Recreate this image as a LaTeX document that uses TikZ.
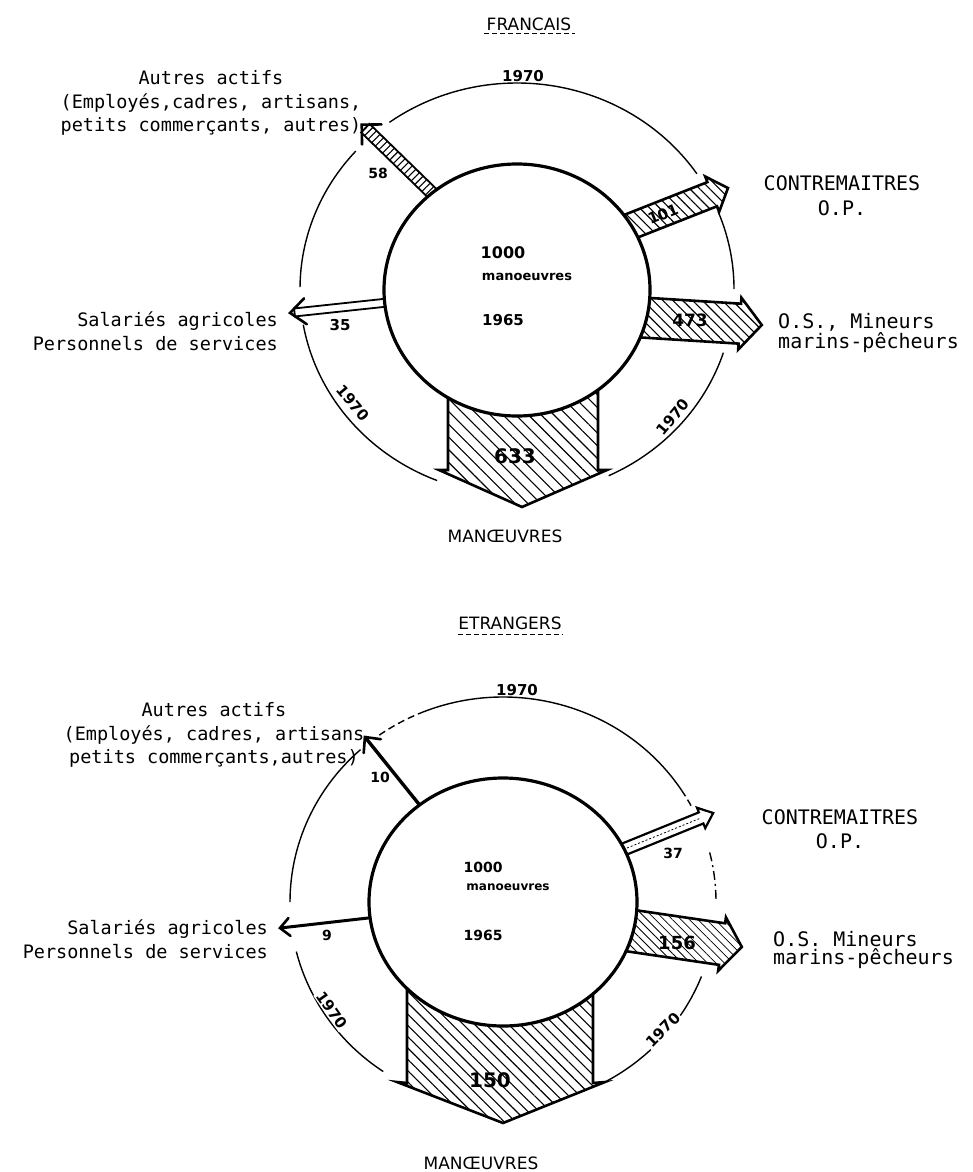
\documentclass[tikz,border=0pt]{standalone}
\usepackage{fontspec}
\usetikzlibrary{patterns.meta}
\newfontfamily\typefont{DejaVu Sans Mono}
\newfontfamily\penfont{DejaVu Sans}
\newfontfamily\plotfont{DejaVu Sans}

% Corner points of a straight band arrow, built in a frame turned along the arrow.
% #1 prefix, #2 base point, #3 angle, #4 start of shaft, #5 end of shaft,
% #6 tip, #7 half width of shaft, #8 half width of head, #9 back of head
\newcommand\bandpts[9]{%
  \begin{scope}[shift={#2},rotate=#3]
    \coordinate (#1-s1) at (#4,#7);
    \coordinate (#1-e1) at (#5,#7);
    \coordinate (#1-h1) at (#9,#8);
    \coordinate (#1-t)  at (#6,0);
    \coordinate (#1-h2) at (#9,-#8);
    \coordinate (#1-e2) at (#5,-#7);
    \coordinate (#1-s2) at (#4,-#7);
    \coordinate (#1-c)  at (#4,0);
    \coordinate (#1-m)  at (#5,0);
  \end{scope}}

\tikzset{
  ring/.style={line width=1.4pt},
  core/.style={line width=3.2pt, fill=white},
  outline/.style={line width=2.6pt, line join=miter},
  hatchA/.style={pattern={Lines[angle=-45,distance=#1,line width=1.1pt]}},
  hatchB/.style={pattern={Lines[angle=45,distance=#1,line width=1.1pt]}},
  barbs/.style={line width=2.6pt, line cap=round, line join=miter},
  leftlbl/.style={font=\typefont\fontsize{18.5}{23.5}\selectfont, inner sep=0pt},
  rightlbl/.style={font=\typefont\fontsize{20}{#1}\selectfont, inner sep=0pt},
  pen/.style={font=\penfont\bfseries\fontsize{#1}{#1}\selectfont, inner sep=1pt},
  yearlbl/.style={pen=15, fill=white, inner sep=1.5pt},
  title/.style={font=\plotfont\fontsize{17}{20}\selectfont, inner sep=0pt},
  underline/.style={line width=1pt, dash pattern=on 5pt off 3pt},
}

\begin{document}
\begin{tikzpicture}[x=1pt,y=-1pt]
\fill[white] (0,0) rectangle (972,1172);
\useasboundingbox (0,0) rectangle (972,1172);

%% ================= FRANCAIS =================
\node[title] (titleF) at (529,24) {FRANCAIS};
\draw[underline] (484,34) -- (575,34);

% outer ring, broken where the arrows leave
\draw[ring] (517,289) ++(111.6:217 and 206) arc[start angle=111.6,end angle=170,x radius=217,y radius=206];
\draw[ring] (517,289) ++(180.5:217 and 206) arc[start angle=180.5,end angle=222,x radius=217,y radius=206];
\draw[ring] (517,289) ++(234:217 and 206) arc[start angle=234,end angle=326,x radius=217,y radius=206];
\draw[ring] (517,289) ++(338:217 and 206) arc[start angle=338,end angle=360,x radius=217,y radius=206];
\draw[ring] (517,289) ++(18:217 and 206) arc[start angle=18,end angle=65,x radius=217,y radius=206];

% arrows
\bandpts{fa}{(432,193)}{135.8}{-30}{93}{98}{6}{14}{84}
\draw[line width=1.8pt, hatchB=5pt] (fa-s1) -- (fa-e1) -- (fa-e2) -- (fa-s2) -- cycle;
\draw[barbs] (fa-h1) -- (fa-t) -- (fa-h2);

\bandpts{fb}{(634,225)}{21.5}{-50}{84}{101}{13}{19}{84}
\draw[outline, hatchA=7pt] (fb-s1) -- (fb-e1) -- (fb-h1) -- (fb-t) -- (fb-h2) -- (fb-e2) -- (fb-s2) -- cycle;

\bandpts{fc}{(650,318)}{-3.6}{-50}{90}{112}{20}{26}{90}
\draw[outline, hatchA=7pt] (fc-s1) -- (fc-e1) -- (fc-h1) -- (fc-t) -- (fc-h2) -- (fc-e2) -- (fc-s2) -- cycle;

\bandpts{fd}{(383,303)}{186.1}{-20}{89}{93.5}{4}{13}{78}
\draw[line width=1.8pt, fill=white] (fd-s1) -- (fd-e1) -- (fd-e2) -- (fd-s2) -- cycle;
\draw[barbs] (fd-h1) -- (fd-t) -- (fd-h2);

\draw[outline, hatchA=9pt] (448,330) -- (448,470) -- (439,470) -- (522,507)
  -- (607,470) -- (598,470) -- (598,330) -- cycle;

% centre
\draw[core] (517,290) ellipse [x radius=133, y radius=126];
\node[pen=16] (f1000) at (503,253) {1000};
\node[pen=13] (fman) at (527,277) {manoeuvres};
\node[pen=15] (f1965) at (503,320) {1965};

% figures
\node[pen=14] (f58) at (378,173) {58};
\node[pen=15, rotate=22] (f101) at (663,214) {101};
\node[pen=17] (f473) at (690,320) {473};
\node[pen=15] (f35) at (340,325) {35};
\node[pen=20] (f633) at (515,456) {633};
\node[pen=15] (fyTop) at (523,76) {1970};
\node[yearlbl, rotate=-50] (fyLeft) at (353,403) {1970};
\node[yearlbl, rotate=50] (fyRight) at (673,417) {1970};

% categories
\node[leftlbl, align=center] (fAutres) at (211,103)
  {Autres actifs\\(Employés,cadres, artisans,\\petits commerçants, autres)};
\node[leftlbl, align=right, anchor=east] (fSal) at (278,331)
  {Salariés agricoles\\Personnels de services};
\node[rightlbl=25, align=center] (fCont) at (842,196) {CONTREMAITRES\\O.P.};
\node[rightlbl=18, align=left, anchor=west] (fOS) at (778,333) {O.S., Mineurs\\marins-pêcheurs};
\node[title] (fMan) at (505,536) {MAN\OE UVRES};

%% ================= ETRANGERS =================
\node[title] (titleE) at (510,623) {ETRANGERS};
\draw[underline] (458,634) -- (563,634);

\draw[ring] (503,902) ++(124.2:213 and 205) arc[start angle=124.2,end angle=166,x radius=213,y radius=205];
\draw[ring] (503,902) ++(180:213 and 205) arc[start angle=180,end angle=228,x radius=213,y radius=205];
\draw[ring, dash pattern=on 7pt off 4pt] (503,902) ++(234.5:213 and 205) arc[start angle=234.5,end angle=248,x radius=213,y radius=205];
\draw[ring] (503,902) ++(248:213 and 205) arc[start angle=248,end angle=327,x radius=213,y radius=205];
\draw[ring, dash pattern=on 7pt off 4pt] (503,902) ++(327:213 and 205) arc[start angle=327,end angle=333,x radius=213,y radius=205];
\draw[ring, dash pattern=on 9pt off 4pt on 2pt off 4pt] (503,902) ++(346:213 and 205) arc[start angle=346,end angle=360,x radius=213,y radius=205];
\draw[ring] (503,902) ++(21.3:213 and 205) arc[start angle=21.3,end angle=61,x radius=213,y radius=205];

\bandpts{ea}{(418,803)}{128.8}{-20}{84.7}{84.7}{0}{11}{73}
\draw[line width=3.4pt] (ea-c) -- (ea-t);
\draw[barbs] (ea-h1) -- (ea-t) -- (ea-h2);

\bandpts{eb}{(627,848)}{22.1}{-40}{80}{93}{6}{11}{80}
\draw[line width=2.2pt, fill=white, line join=miter] (eb-s1) -- (eb-e1) -- (eb-h1) -- (eb-t) -- (eb-h2) -- (eb-e2) -- (eb-s2) -- cycle;
\draw[line width=0.8pt, dash pattern=on 2pt off 2pt] (eb-c) -- (eb-m);

\bandpts{ec}{(633,931)}{-8.35}{-50}{90}{110}{21}{27}{90}
\draw[outline, pattern={Lines[angle=-45,distance=6pt,line width=0.8pt]}] (ec-s1) -- (ec-e1) -- (ec-h1) -- (ec-t) -- (ec-h2) -- (ec-e2) -- (ec-s2) -- cycle;

\bandpts{ed}{(368,918)}{186.5}{-20}{88.6}{88.6}{0}{9}{79}
\draw[line width=3pt] (ed-c) -- (ed-t);
\draw[barbs] (ed-h1) -- (ed-t) -- (ed-h2);

\draw[outline, hatchA=8pt] (407,960) -- (407,1083) -- (397,1082) -- (503,1123)
  -- (605,1082) -- (593,1083) -- (593,960) -- cycle;

\draw[core] (503,902) ellipse [x radius=134, y radius=124];
\node[pen=14] (e1000) at (483,867) {1000};
\node[pen=12] (eman) at (508,887) {manoeuvres};
\node[pen=14] (e1965) at (483,935) {1965};

\node[pen=14] (e10) at (380,777) {10};
\node[pen=14] (e37) at (673,853) {37};
\node[pen=18] (e156) at (677,943) {156};
\node[pen=14] (e9) at (327,935) {9};
\node[pen=20] (e150) at (490,1080) {150};
\node[pen=15] (eyTop) at (517,690) {1970};
\node[yearlbl, rotate=-55] (eyLeft) at (332,1010) {1970};
\node[yearlbl, rotate=45] (eyRight) at (663,1030) {1970};

\node[leftlbl, align=center] (eAutres) at (214,735)
  {Autres actifs\\(Employés, cadres, artisans\\petits commerçants,autres)};
\node[leftlbl, align=right, anchor=east] (eSal) at (268,939)
  {Salariés agricoles\\Personnels de services};
\node[rightlbl=24, align=center] (eCont) at (840,829) {CONTREMAITRES\\O.P.};
\node[rightlbl=18, align=left, anchor=west] (eOS) at (773,950) {O.S. Mineurs\\marins-pêcheurs};
\node[title] (eMan) at (481,1163) {MAN\OE UVRES};
\end{tikzpicture}
\end{document}
